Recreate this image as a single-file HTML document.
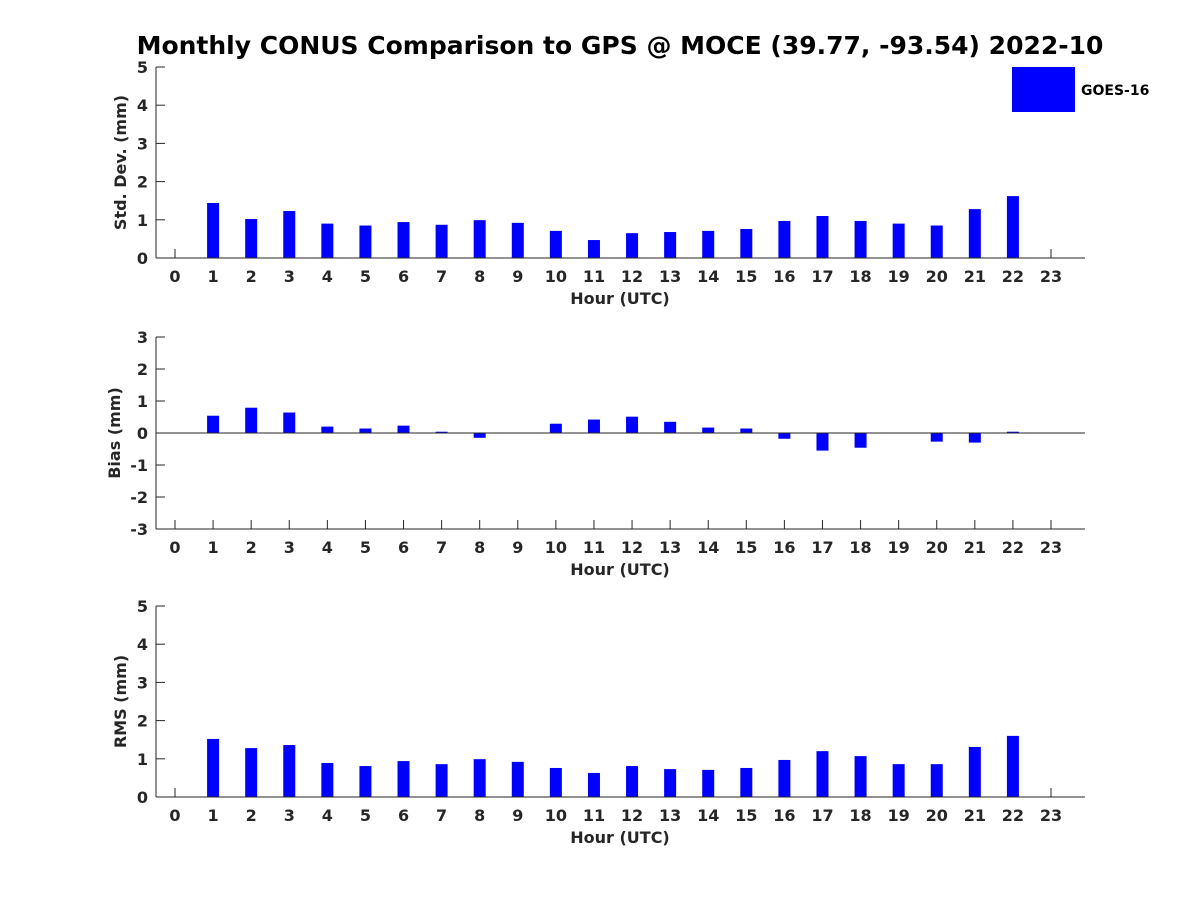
<!DOCTYPE html>
<html><head><meta charset="utf-8"><style>
html,body{margin:0;padding:0;background:#fff;}
svg text{font-family:"DejaVu Sans","Liberation Sans",sans-serif;font-weight:bold;}
</style></head><body>
<svg id="chart" width="1200" height="900" xmlns="http://www.w3.org/2000/svg">
<rect width="1200" height="900" fill="#fff"/>
<text x="620" y="54" font-size="25" text-anchor="middle" fill="#000">Monthly CONUS Comparison to GPS @ MOCE (39.77, -93.54) 2022-10</text>
<g>
<rect x="1012" y="67" width="63" height="45" fill="#0000ff"/>
<text x="1081" y="95" font-size="14" fill="#000">GOES-16</text>
</g>
</svg>
<script>
const hours = [0,1,2,3,4,5,6,7,8,9,10,11,12,13,14,15,16,17,18,19,20,21,22,23];
const stdDev = [0,1.44,1.02,1.23,0.90,0.85,0.94,0.87,0.99,0.92,0.71,0.47,0.65,0.68,0.71,0.76,0.97,1.10,0.97,0.90,0.85,1.28,1.62,0];
const bias = [0,0.54,0.79,0.64,0.20,0.14,0.23,0.04,-0.15,0,0.29,0.42,0.51,0.35,0.17,0.14,-0.18,-0.55,-0.46,-0.01,-0.27,-0.30,0.04,0];
const rms = [0,1.52,1.28,1.36,0.89,0.81,0.94,0.86,0.99,0.92,0.76,0.63,0.81,0.73,0.71,0.76,0.97,1.20,1.07,0.86,0.86,1.31,1.60,0];
const stdTicks = [0,1,2,3,4,5];
const biasTicks = [-3,-2,-1,0,1,2,3];
const rmsTicks = [0,1,2,3,4,5];

const svg = document.getElementById('chart');
const NS = 'http://www.w3.org/2000/svg';
function mk(tag, attrs, parent){const e=document.createElementNS(NS,tag);for(const k in attrs)e.setAttribute(k,attrs[k]);(parent||svg).appendChild(e);return e;}
const xL=156, xR=1085;
function xs(h){return 175 + h*(1051-175)/23;}

function panel(name, vals, ticks, top, bottom, ylabel){
  const g = mk('g',{});
  
  
  const lo=ticks[0], hi=ticks[ticks.length-1];
  const ys = v => bottom - (v-lo)/(hi-lo)*(bottom-top);
  const zeroY = ys(Math.max(lo,0));
  hours.forEach(h=>{
    const x=xs(h);
    mk('line',{x1:x,y1:bottom,x2:x,y2:bottom-9,stroke:'#262626'},g);
    const tx = mk('text',{x:x,y:bottom+24,'font-size':16,'text-anchor':'middle',fill:'#262626'},g);
    tx.textContent=h;
    
    
  });
  vals.forEach((v,i)=>{
    const y0=ys(0), y1=ys(v);
    const r = mk('rect',{x:xs(hours[i])-6,y:Math.min(y0,y1),width:12,height:Math.abs(y1-y0),fill:'#0000ff'},g);
    
    
  });
  const ya = mk('line',{x1:xL,y1:top,x2:xL,y2:bottom,stroke:'#262626','stroke-width':1},g);
  
  
  const xa = mk('line',{x1:xL,y1:bottom,x2:xR,y2:bottom,stroke:'#262626','stroke-width':1},g);
  
  
  if (zeroY !== bottom) {
    const zl = mk('line',{x1:xL,y1:zeroY,x2:xR,y2:zeroY,stroke:'#262626','stroke-width':1},g);
    
    
  }
  ticks.forEach(t=>{
    const y=ys(t);
    mk('line',{x1:xL,y1:y,x2:xL+9,y2:y,stroke:'#262626'},g);
    const tx = mk('text',{x:xL-8,y:y+6,'font-size':16,'text-anchor':'end',fill:'#262626'},g);
    tx.textContent=t;
    
    
  });
  const xl = mk('text',{x:620,y:bottom+46,'font-size':16,'text-anchor':'middle',fill:'#262626'},g);
  xl.textContent='Hour (UTC)';
  
  
  const cy=(top+bottom)/2;
  const yl = mk('text',{x:0,y:0,'font-size':16,'text-anchor':'middle',fill:'#262626',transform:'translate('+(ylabel.x)+','+cy+') rotate(-90)'},g);
  yl.textContent=ylabel.t;
  
  
}
panel('std-dev', stdDev, stdTicks, 67, 258, {t:'Std. Dev. (mm)', x:126});
panel('bias', bias, biasTicks, 337, 529, {t:'Bias (mm)', x:120});
panel('rms', rms, rmsTicks, 606, 797, {t:'RMS (mm)', x:126});
</script>
</body></html>
